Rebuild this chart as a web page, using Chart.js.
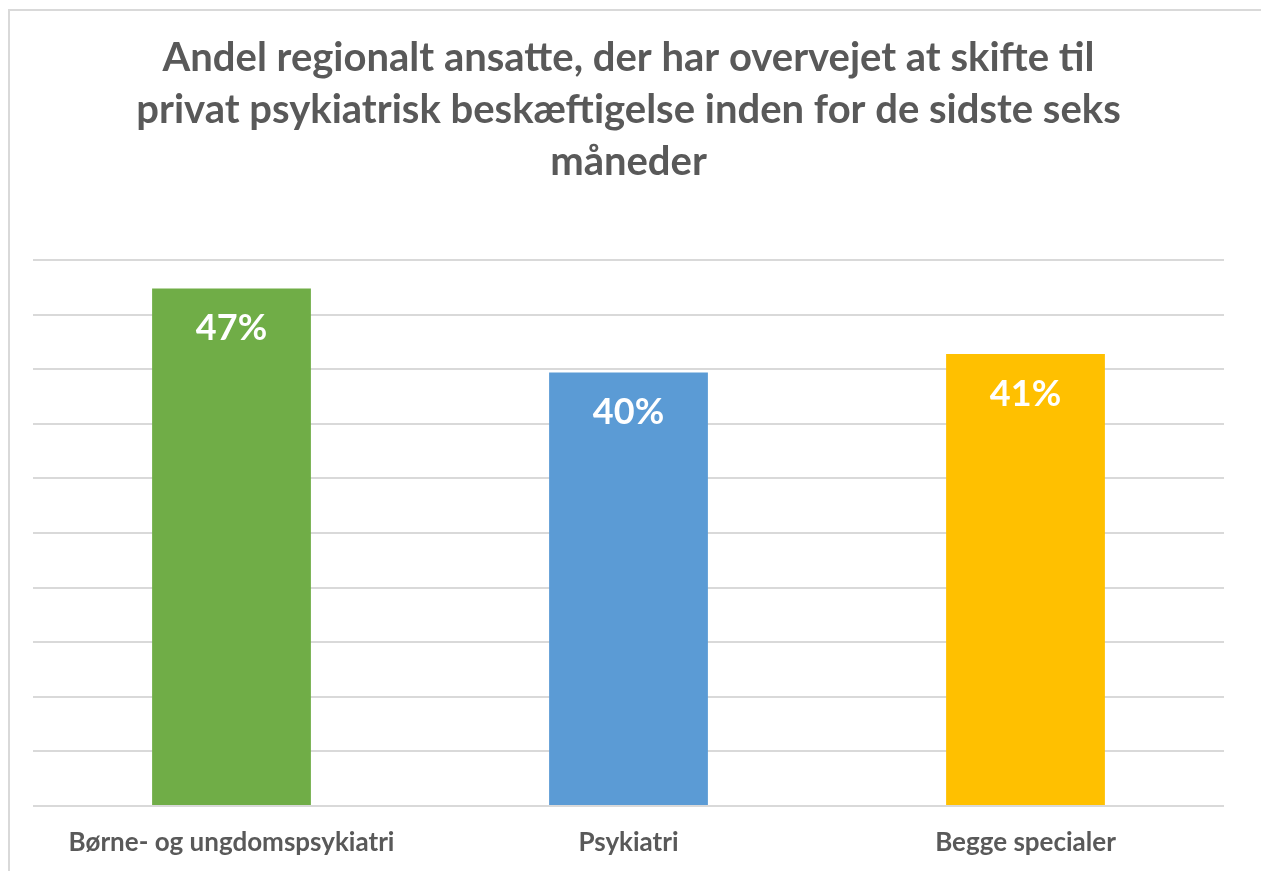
<!DOCTYPE html>
<html>
<head>
<meta charset="utf-8">
<script src="https://cdn.jsdelivr.net/npm/chart.js@4"></script>
<style>
  html, body { margin: 0; padding: 0; background: #fff; overflow: hidden; }
  #frame { position: absolute; left: 8px; top: 9px; width: 1300px; height: 900px; border: 2px solid #d9d9d9; }
  #wrap { position: absolute; left: 0; top: 0; width: 1261px; height: 871px; }
</style>
</head>
<body>
<div id="frame"></div>
<div id="wrap"><canvas id="myChart" width="1261" height="871"></canvas></div>
<script>
// data
var categories = ['Børne- og ungdomspsykiatri', 'Psykiatri', 'Begge specialer']
var shares = [0.474, 0.397, 0.414]
var barColors = ['#70AD47', '#5B9BD5', '#FFC000']
var titleLines = [
  'Andel regionalt ansatte, der har overvejet at skifte til',
  'privat psykiatrisk beskæftigelse inden for de sidste seks',
  'måneder'
]
var yMax = 0.5
var yStep = 0.05

var FONT = 'Lato, "Open Sans", sans-serif'

// white percentage labels inside the top of each bar
const barLabels = {
  id: 'barLabels',
  afterDatasetsDraw(chart) {
    const ctx = chart.ctx
    const meta = chart.getDatasetMeta(0)
    ctx.save()
    ctx.fillStyle = '#ffffff'
    ctx.font = 'bold 36px ' + FONT
    ctx.textAlign = 'center'
    ctx.textBaseline = 'middle'
    meta.data.forEach(function (bar, i) {
      ctx.fillText(Math.round(shares[i] * 100) + '%', bar.x, bar.y + 40)
    })
    ctx.restore()
  }
}

const ctx = document.getElementById('myChart').getContext('2d')
const myChart = new Chart(ctx, {
  type: 'bar',
  data: {
    labels: categories,
    datasets: [{
      data: shares,
      backgroundColor: barColors,
      borderWidth: 0,
      categoryPercentage: 0.8,
      barPercentage: 0.5
    }]
  },
  options: {
    responsive: false,
    animation: false,
    layout: { padding: { left: 33, right: 37, top: 0, bottom: 0 } },
    plugins: {
      legend: { display: false },
      tooltip: { enabled: false },
      title: {
        display: true,
        text: titleLines,
        color: '#595959',
        font: { family: FONT, size: 40, weight: 'bold', lineHeight: 1.3 },
        padding: { top: 32, bottom: 72 }
      }
    },
    scales: {
      x: {
        grid: { display: false, drawTicks: false },
        border: { display: false },
        ticks: {
          color: '#595959',
          font: { family: FONT, size: 26, weight: 'bold' },
          padding: 21,
          maxRotation: 0
        },
        afterFit(scale) { scale.height = 65 }
      },
      y: {
        min: 0,
        max: yMax,
        border: { display: false },
        grid: { color: '#d9d9d9', lineWidth: 2, drawTicks: false },
        ticks: { display: false, stepSize: yStep }
      }
    }
  },
  plugins: [barLabels]
})
</script>
</body>
</html>
